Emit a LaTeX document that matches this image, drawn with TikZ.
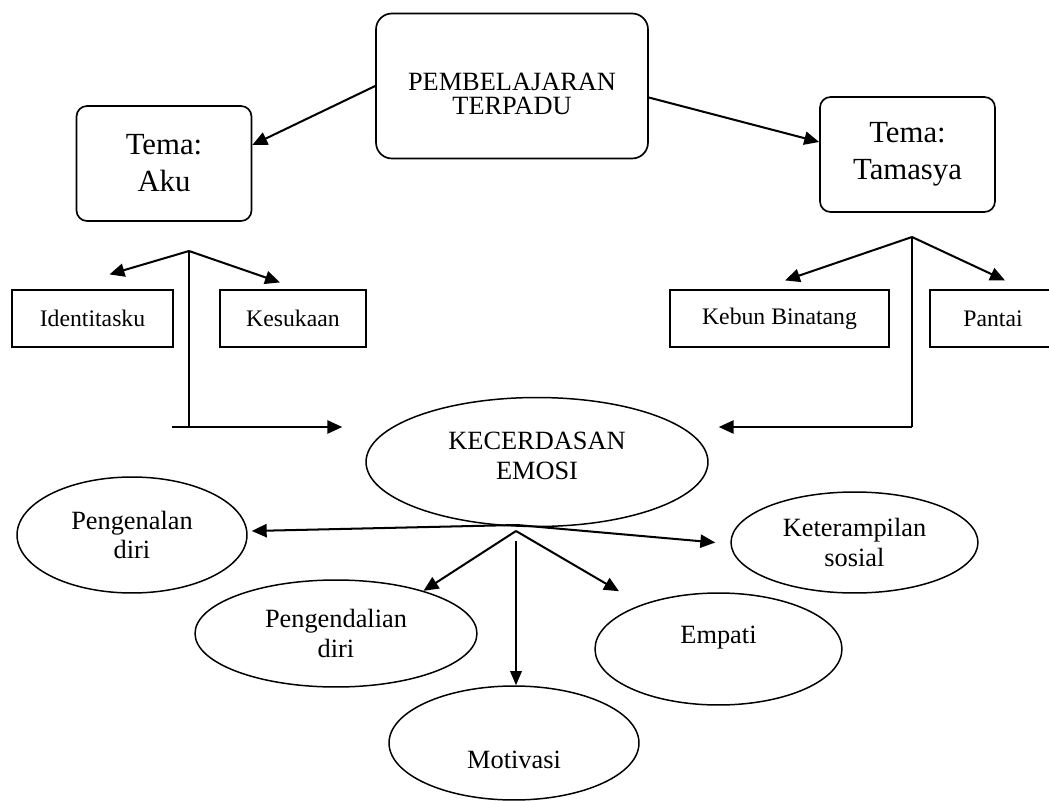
\documentclass[tikz,border=0pt]{standalone}
\usepackage{fontspec}
\setmainfont{Liberation Serif}
\usetikzlibrary{arrows.meta,shapes.geometric,calc}

\begin{document}
\begin{tikzpicture}[
  x=0.02cm, y=-0.02cm,
  mainbox/.style={rectangle, draw, line width=0.95pt, rounded corners=9pt, minimum width=5.44cm, minimum height=2.9cm, align=center, font=\fontsize{15}{13.5}\selectfont},
  temabox/.style={rectangle, draw, line width=0.95pt, rounded corners=6pt, minimum width=3.5cm, minimum height=2.3cm, align=center, font=\fontsize{17.5}{21}\selectfont},
  subbox/.style={rectangle, draw, line width=0.95pt, minimum height=1.13cm, font=\fontsize{13.5}{16}\selectfont},
  oval/.style={ellipse, draw, line width=0.85pt, inner sep=0pt, align=center, font=\fontsize{15}{17}\selectfont},
  arr/.style={-{Triangle[length=8.5pt,width=7.5pt]}, line width=1.15pt},
  arrthin/.style={-{Triangle[length=8pt,width=6.5pt]}, line width=0.95pt},
  branch/.style={line width=0.9pt},
]
\useasboundingbox (0,0) rectangle (1049,801);

% Top level
\node[mainbox] (main) at (512,86) {\mbox{}\\[5.4pt]PEMBELAJARAN\\TERPADU};
\node[temabox] (aku) at (164,163.5) {Tema:\\Aku};
\node[temabox] (tamasya) at (907.5,154.5) {Tema:\\Tamasya};

% Sub themes
\node[subbox, minimum width=3.22cm] (ident) at (92.5,318.5) {Identitasku};
\node[subbox, minimum width=2.92cm] (kesuka) at (293,318.5) {Kesukaan};
\node[subbox, minimum width=4.38cm] (kebun) at (779.5,318.5) {Kebun Binatang};
\node[subbox, minimum width=2.52cm] (pantai) at (993,318.5) {Pantai};

% Emotional intelligence
\node[oval, minimum width=6.84cm, minimum height=2.58cm] (kecer) at (537,462) {KECERDASAN\\EMOSI\\[-10pt]};
\node[oval, minimum width=4.6cm, minimum height=2.32cm] (pengenal) at (132,535) {Pengenalan\\diri};
\node[oval, minimum width=4.94cm, minimum height=2.02cm] (ketram) at (854.5,542.5) {Keterampilan\\sosial};
\node[oval, minimum width=5.64cm, minimum height=2.14cm] (pengendal) at (336,633.5) {Pengendalian\\diri};
\node[oval, minimum width=4.94cm, minimum height=2.24cm, text depth=16pt] (empati) at (718.5,649) {Empati};
\node[oval, minimum width=5cm, minimum height=2.28cm, text height=29pt] (motiv) at (514,743) {Motivasi};

% Branch points
\coordinate (akutop) at (189,251);
\coordinate (akubot) at (189,427);
\coordinate (akuleft) at (172,427);
\coordinate (tamtop) at (912,237);
\coordinate (tambot) at (912,427);
\coordinate (emosplit) at (517,525);
\coordinate (emoapex) at (516,531);
\coordinate (emodown) at (516,541);

% Arrows
\draw[arr] (main.west) -- ([yshift=0.37cm]aku.east);
\draw[arr] ([yshift=-0.23cm]main.east) -- ([yshift=0.25cm]tamasya.west);

\draw[arr] (akutop) -- ($(ident.north)+(17,-15)$);
\draw[arr] (akutop) -- ($(kesuka.north)+(-13,-7)$);
\draw[branch] (akutop) -- (akubot);
\draw[arr] (akuleft) -- ($(kecer.west |- akubot)+(-23,0)$);

\draw[arr] (tamtop) -- ($(kebun.north)+(5.5,-9)$);
\draw[arr] (tamtop) -- ($(pantai.north)+(12,-9)$);
\draw[branch] (tamtop) -- (tambot);
\draw[arr] (tambot) -- ($(kecer.east |- tambot)+(10,0)$);

\draw[arr] (emosplit) -- ($(pengenal.east)+(4,-4)$);
\draw[arr] (emosplit) -- ($(ketram.west)+(-15,0)$);
\draw[arr] (emoapex) -- (pengendal.26);
\draw[arr] (emoapex) -- ($(empati.north)+(-99.5,-1)$);
\draw[arrthin] (emodown) -- (emodown |- motiv.north);
\end{tikzpicture}
\end{document}
